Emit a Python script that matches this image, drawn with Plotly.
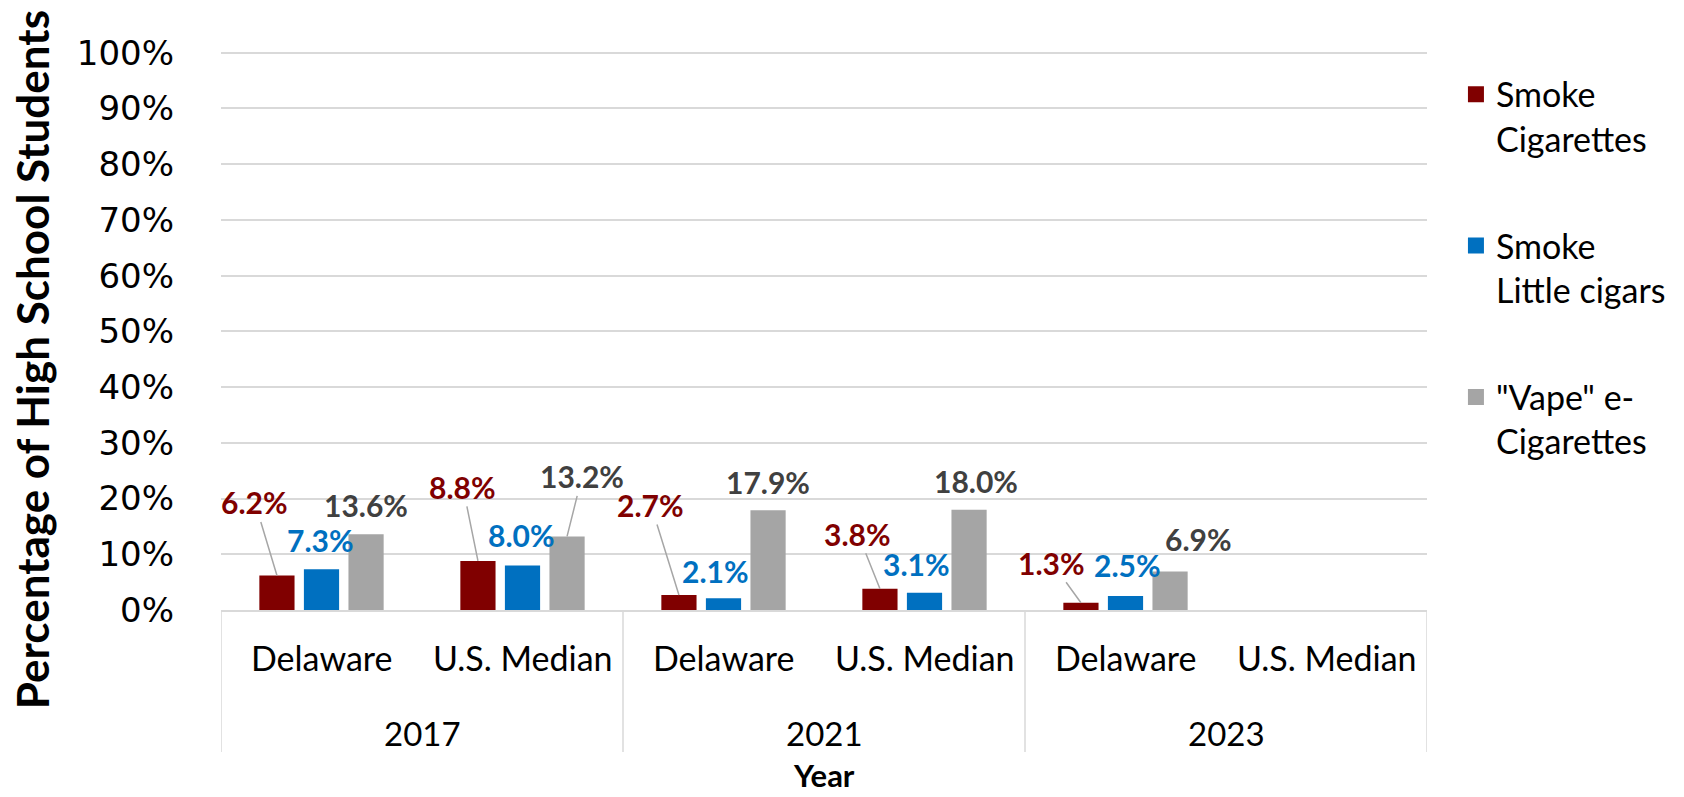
import plotly.graph_objects as go

# ---- data ----
years = ["2017", "2017", "2021", "2021", "2023", "2023"]
groups = ["Delaware", "U.S. Median", "Delaware", "U.S. Median", "Delaware", "U.S. Median"]
year_labels = ["2017", "2021", "2023"]
series_names = ["Smoke<br>Cigarettes", "Smoke<br>Little cigars", "\"Vape\" e-<br>Cigarettes"]
cigarettes = [6.2, 8.8, 2.7, 3.8, 1.3, None]
little_cigars = [7.3, 8.0, 2.1, 3.1, 2.5, None]
vape = [13.6, 13.2, 17.9, 18.0, 6.9, None]
y_ticks = [0, 10, 20, 30, 40, 50, 60, 70, 80, 90, 100]
y_tick_text = [f"{t}%" for t in y_ticks]

# ---- styles ----
bar_colors = ["#800000", "#0070C0", "#A5A5A5"]
label_colors = ["#800000", "#0070C0", "#404040"]
# label offsets in pixels from bar top (dx, dy), and whether a leader line is drawn
label_offsets = [
    [(-22, -73, True), (-15, -74, True), (-28, -90, True), (-22, -55, True), (-29, -40, True), None],
    [(-1, -29, False), (-1, -30, False), (-8, -27, False), (-8, -29, False), (2, -31, False), None],
    [(0, -29, False), (15, -60, True), (0, -28, False), (7, -29, False), (28, -33, False), None],
]

BARGAP = 0.335
BARGROUPGAP = 0.21
FONT = "Lato, 'Open Sans', sans-serif"

series = [cigarettes, little_cigars, vape]
xs = list(range(len(groups)))

fig = go.Figure()
for j, vals in enumerate(series):
    fig.add_trace(go.Bar(
        x=xs, y=vals, name=series_names[j],
        marker=dict(color=bar_colors[j], line=dict(width=0)),
        showlegend=False, hoverinfo="y",
    ))
    # legend proxy with a bigger square symbol
    fig.add_trace(go.Scatter(
        x=[None], y=[None], mode="markers", name=series_names[j],
        marker=dict(symbol="square", size=18, color=bar_colors[j]),
        legendgroup=f"g{j}", showlegend=True,
    ))

annotations = []
slot = (1 - BARGAP) / 3
for j, vals in enumerate(series):
    for i, v in enumerate(vals):
        if v is None:
            continue
        dx, dy, line = label_offsets[j][i]
        annotations.append(dict(
            x=i + (j - 1) * slot, y=v, xref="x", yref="y",
            ax=dx, ay=dy, axref="pixel", ayref="pixel",
            text=f"{v:.1f}%", showarrow=True, arrowhead=0, standoff=0,
            arrowwidth=1.5, arrowcolor="#A6A6A6" if line else "rgba(0,0,0,0)",
            font=dict(family=FONT, size=30, color=label_colors[j], weight="bold"),
        ))

# category labels
for i, g in enumerate(groups):
    annotations.append(dict(
        x=i, y=-0.0841, xref="x", yref="paper", text=g, showarrow=False,
        yanchor="middle", font=dict(family=FONT, size=34, color="#000000"),
    ))
for k, yl in enumerate(year_labels):
    annotations.append(dict(
        x=2 * k + 0.5, y=-0.22, xref="x", yref="paper", text=yl, showarrow=False,
        yanchor="middle", font=dict(family=FONT, size=33, color="#000000"),
    ))
annotations.append(dict(
    x=0.5, y=-0.2952, xref="paper", yref="paper", text="Year", showarrow=False,
    yanchor="middle", borderpad=0,
    font=dict(family=FONT, size=31, color="#000000", weight="bold"),
))
annotations.append(dict(
    x=-0.1567, y=0.447, xref="paper", yref="paper", text="Percentage of High School Students",
    showarrow=False, textangle=-90, xanchor="center", yanchor="middle",
    font=dict(family=FONT, size=44, color="#000000", weight="bold"),
))

# category divider lines
shapes = []
for b in [-0.5, 1.5, 3.5, 5.5]:
    shapes.append(dict(type="line", xref="x", yref="paper", x0=b, x1=b, y0=0, y1=-0.254,
                       line=dict(color="#D9D9D9", width=1.5)))

fig.update_layout(
    width=1684, height=797,
    margin=dict(l=221, r=1684 - 1427, t=51, b=187),
    paper_bgcolor="white", plot_bgcolor="white",
    barmode="group", bargap=BARGAP, bargroupgap=BARGROUPGAP,
    xaxis=dict(range=[-0.5, 5.5], showticklabels=False, showgrid=False, zeroline=False,
               showline=True, linecolor="#D9D9D9", linewidth=1.5, ticks=""),
    yaxis=dict(range=[0, 100.3], tickvals=y_ticks, ticktext=y_tick_text, showgrid=True,
               gridcolor="#D9D9D9", gridwidth=1.5, zeroline=False, showline=False,
               ticks="", ticklabelstandoff=46,
               tickfont=dict(family="'DejaVu Sans', Verdana, sans-serif", size=34, color="#000000")),
    legend=dict(x=1.024, y=0.974, xanchor="left", yanchor="top", valign="top",
                tracegroupgap=60, font=dict(family=FONT, size=34, color="#000000"),
                bgcolor="rgba(0,0,0,0)"),
    annotations=annotations, shapes=shapes,
    showlegend=True,
)

fig.write_html(
    "out.html",
    config={"displayModeBar": False},
    post_script="document.body.style.margin='0px';document.body.style.overflow='hidden';",
)
